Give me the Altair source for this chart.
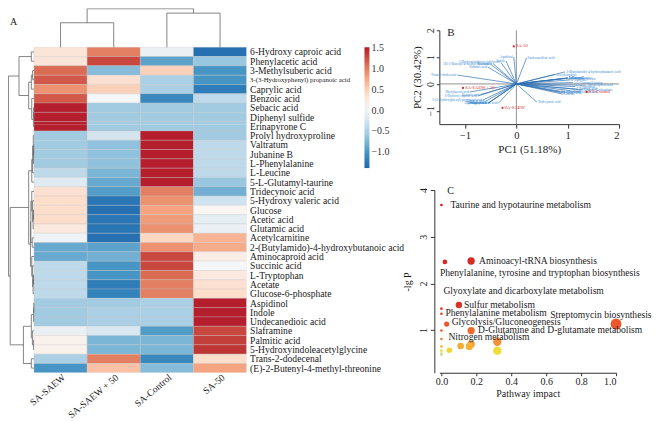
import altair as alt
import pandas as pd

FONT = "Liberation Serif"

# ---------------- Panel A : heatmap ----------------
metabolites = [
    "6-Hydroxy caproic acid", "Phenylacetic acid", "3-Methylsuberic acid",
    "3-(3-Hydroxyphenyl) propanoic acid", "Caprylic acid", "Benzoic acid",
    "Sebacic acid", "Diphenyl sulfide", "Erinapyrone C", "Prolyl hydroxyproline",
    "Valtratum", "Jubanine B", "L-Phenylalanine", "L-Leucine", "5-L-Glutamyl-taurine",
    "Tridecynoic acid", "5-Hydroxy valeric acid", "Glucose", "Acetic acid",
    "Glutamic acid", "Acetylcarnitine", "2-(Butylamido)-4-hydroxybutanoic acid",
    "Aminocaproid acid", "Succinic acid", "L-Tryptophan", "Acetate",
    "Glucose-6-phosphate", "Aspidinol", "Indole", "Undecanedioic acid",
    "Slaframine", "Palmitic acid", "5-Hydroxyindoleacetylglycine",
    "Trans-2-dodecenal", "(E)-2-Butenyl-4-methyl-threonine",
]
groups = ["SA-SAEW", "SA-SAEW + 50", "SA-Control", "SA-50"]

z_saew = [0.30, 0.30, 1.10, 1.20, 0.90, 1.20, 1.50, 1.50, 1.50, -0.55, -0.55, -0.55,
          -0.55, -0.40, -0.15, 0.35, 0.40, 0.40, 0.40, 0.25, 0.00, -0.85, -0.85, -0.40,
          -0.40, -0.40, -0.40, -0.55, -0.55, -0.55, -0.05, 0.15, 0.15, -0.50, -1.00]
z_saew50 = [1.00, 1.30, -0.70, 0.35, 0.50, 0.05, -0.55, -0.55, -0.55, -0.25, -0.65, -0.65,
            -0.65, -0.75, -0.85, -0.95, -1.25, -1.30, -1.25, -1.25, -1.30, -0.90, -0.80,
            -1.00, -1.00, -1.20, -1.15, -0.55, -0.50, -0.50, -0.20, -0.75, -0.75, 1.00, 0.60]
z_control = [-0.05, -0.90, 0.50, -0.50, -0.50, -1.10, -0.55, -0.55, -0.55, 1.50, 1.50, 1.50,
             1.50, 1.50, 1.50, 1.00, 0.90, 0.80, 0.85, 0.90, 0.45, 0.90, 1.30, 1.30, 1.10,
             1.00, 1.00, -0.50, -0.50, -0.50, -0.95, -0.75, -0.75, -1.10, -0.70]
z_sa50 = [-1.30, -0.60, -1.00, -1.00, -1.20, -0.40, -0.55, -0.55, -0.55, -0.55, -0.40, -0.40,
          -0.40, -0.40, -0.60, -0.80, -0.30, 0.10, -0.10, -0.05, 0.70, 0.75, 0.20, 0.05,
          0.25, 0.35, 0.40, 1.50, 1.50, 1.50, 1.30, 1.35, 1.40, 0.40, 0.80]

# dendrograms: (height, left, right); leaves are row / column indices
row_tree = (29,
            (17, (3, 0, 1),
                 (6, (3, (1.5, 2, 3), 4),
                     (2.5, 5, (0.6, (0.4, 6, 7), 8)))),
            (27,
             (6,
              (2.5, (1.5, (0.8, 9, (0.5, (0.3, 10, 11), 12)), 13), 14),
              (4.0,
               (3.5, (2.5, 15, (1.5, 16, (1.0, (0.5, 17, 18), 19))), (2.0, 20, 21)),
               (2.5, 22, (1.5, 23, (1.0, (0.5, 24, 25), 26))))),
             (12,
              (3, (0.4, (0.2, 27, 28), 29), (1.8, 30, (0.6, 31, 32))),
              (3, 33, 34))))
col_tree = (44, (28, 0, 1), (39, 2, 3))

# ---------------- Panel B : PCA biplot ----------------
load_pc1 = [-0.75, -0.90, -0.35, -0.65, -0.60, -0.70, -0.55, -0.55, -0.55, 0.95, 1.00, 1.00,
            1.00, 1.05, 1.10, 0.40, 0.95, 0.90, 0.95, 0.85, 0.75, 0.95, 1.35, 1.20, 1.15,
            1.05, 1.30, -0.05, -0.20, 0.20, -0.45, -0.55, -0.30, -1.15, -0.50]
load_pc2 = [-0.45, -0.30, -0.72, -0.60, -0.65, -0.40, -0.72, -0.72, -0.72, 0.20, 0.22, 0.22,
            0.22, 0.15, 0.05, -0.68, -0.30, -0.38, -0.35, -0.30, 0.35, 0.45, -0.05, -0.20,
            -0.10, -0.25, -0.22, 1.00, 0.85, 0.97, 0.75, 0.62, 0.80, 0.33, 0.73]
samples = ["SA-50", "SA-Control", "SA-SAEW + 50", "SA-SAEW"]
sample_pc1 = [-0.05, 1.37, -1.04, -0.27]
sample_pc2 = [1.40, -0.30, -0.15, -0.89]

# ---------------- Panel C : pathway bubbles ----------------
bub_label = ["Taurine and hypotaurine metabolism", "Aminoacyl-tRNA biosynthesis",
             "Phenylalanine, tyrosine and tryptophan biosynthesis",
             "Glyoxylate and dicarboxylate metabolism", "Phenylalanine metabolism",
             "Sulfur metabolism", "Glycolysis/Gluconeogenesis", "Streptomycin biosynthesis",
             "D-Glutamine and D-glutamate metabolism", "", "Nitrogen metabolism",
             "", "", "", "", "", "", "", "", "", ""]
bub_impact = [0.0, 0.17, 0.02, 0.0, 0.0, 0.10, 0.03, 1.0, 0.17, 0.0, 0.0,
              0.32, 0.17, 0.16, 0.11, 0.32, 0.045, 0.0, 0.0, 0.0, 0.0]
bub_lgp = [3.68, 2.48, 2.46, 1.46, 1.35, 1.54, 1.13, 1.13, 0.99, 0.99, 0.81,
           0.75, 0.70, 0.65, 0.66, 0.56, 0.57, 0.65, 0.56, 0.50, 0.47]

# annotation placement (pixel offsets of each label from its bubble)
LABEL_OFFSETS = {
    "Taurine and hypotaurine metabolism": (9, 0),
    "Aminoacyl-tRNA biosynthesis": (8, 0),
    "Phenylalanine, tyrosine and tryptophan biosynthesis": (-5, 11),
    "Glyoxylate and dicarboxylate metabolism": (2, -18),
    "Phenylalanine metabolism": (4, -1),
    "Sulfur metabolism": (5, 0),
    "Glycolysis/Gluconeogenesis": (5, -2),
    "Streptomycin biosynthesis": (-66, -9),
    "D-Glutamine and D-glutamate metabolism": (7, -1),
    "Nitrogen metabolism": (7, -2),
}

# ---------------- layout sizes (pixels) ----------------
DENDRO_W, HEAT_W = 26, 213
COLDENDRO_H, HEAT_H = 39, 326
GAP_W = 193
RIGHT_ROWS = [22, 94, 66, 183]          # spacer, PCA, spacer, bubble
COL_PX = HEAT_W / 4.0
ROW_PX = HEAT_H / 35.0


def dendro_segments(tree):
    segs = []

    def walk(n):
        if isinstance(n, int):
            return n + 0.5, 0.0
        h, l, r = n
        pl, hl = walk(l)
        pr, hr = walk(r)
        segs.append((pl, hl, pl, h))
        segs.append((pr, hr, pr, h))
        segs.append((pl, h, pr, h))
        return (pl + pr) / 2.0, h

    walk(tree)
    return pd.DataFrame(segs, columns=["p1", "h1", "p2", "h2"])


# heatmap in (column, row) units; dendrograms placed in the same units outside the cells
nrow = len(metabolites)
hm_df = pd.DataFrame({
    "metabolite": metabolites * 4,
    "group": [g for g in groups for _ in metabolites],
    "z": z_saew + z_saew50 + z_control + z_sa50,
    "c": [float(groups.index(g)) for g in groups for _ in metabolites],
    "r": [float(i) for _ in groups for i in range(nrow)],
})
hm_df["c2"] = hm_df["c"] + 1
hm_df["r2"] = hm_df["r"] + 1

kx_row = (DENDRO_W / COL_PX) / 29.5      # dendrogram height -> column units
ky_col = (COLDENDRO_H / ROW_PX) / 44.5   # dendrogram height -> row units
rseg = dendro_segments(row_tree)
row_seg = pd.DataFrame({"x1": -rseg["h1"] * kx_row, "x2": -rseg["h2"] * kx_row,
                        "y1": rseg["p1"], "y2": rseg["p2"]})
cseg = dendro_segments(col_tree)
col_seg = pd.DataFrame({"x1": cseg["p1"], "x2": cseg["p2"],
                        "y1": -cseg["h1"] * ky_col, "y2": -cseg["h2"] * ky_col})

zmin, zmax = -1.38, 1.52
stops = [zmin + (zmax - zmin) * i / 8 for i in range(9)]
rdbu = ["#2166ac", "#4393c3", "#8fc2dd", "#cfe3ef", "#f7f7f7",
        "#fddbc7", "#f4a582", "#d6604d", "#b2182b"]

names_js = "[" + ",".join("'" + m + "'" for m in metabolites) + "]"
groups_js = "[" + ",".join("'" + g + "'" for g in groups) + "]"
X_DOM = [-DENDRO_W / COL_PX, 4.0]


def left_part(top_px, bot_px, last=False, legend=False, letter=False):
    u0 = (top_px - COLDENDRO_H) / ROW_PX
    u1 = (bot_px - COLDENDRO_H) / ROW_PX
    xs = alt.Scale(domain=X_DOM, nice=False, zero=False)
    ys = alt.Scale(domain=[u0, u1], nice=False, zero=False, reverse=True)
    yvals = [i + 0.5 for i in range(nrow) if u0 <= i + 0.5 < u1]
    if yvals:
        yaxis = alt.Axis(orient="right", title=None, ticks=False, domain=False, grid=False,
                         values=yvals, labelExpr=names_js + "[floor(datum.value)]",
                         labelOverlap=False, labelPadding=3, labelLimit=0,
                         labelColor="#1a1a1a",
                         labelFontSize={"condition": {"test": "floor(datum.value) == 3",
                                                      "value": 6.8}, "value": 9.6})
    else:
        yaxis = None
    if last:
        xaxis = alt.Axis(title=None, values=[0.5, 1.5, 2.5, 3.5], grid=False, ticks=False,
                         domain=False, labelExpr=groups_js + "[floor(datum.value)]",
                         labelOverlap=False, labelAngle=320, labelAlign="right",
                         labelBaseline="middle", labelFontSize=9.6, labelPadding=3,
                         labelOffset=3, labelLimit=0)
    else:
        xaxis = None
    leg = None
    if legend:
        leg = alt.Legend(orient="none", legendX=357, legendY=COLDENDRO_H - top_px,
                         direction="vertical", title=None, gradientLength=121,
                         gradientThickness=5, gradientStrokeWidth=0, padding=0,
                         values=[-1, -0.5, 0, 0.5, 1, 1.5], format=".1f",
                         labelFontSize=10, labelOffset=2, labelColor="#333")
    cells = alt.Chart(hm_df).mark_rect(stroke="#c4c4c4", strokeWidth=0.3, clip=True).encode(
        x=alt.X("c:Q", scale=xs, axis=xaxis), x2="c2:Q",
        y=alt.Y("r:Q", scale=ys, axis=yaxis), y2="r2:Q",
        color=alt.Color("z:Q", scale=alt.Scale(domain=stops, range=rdbu), legend=leg),
    )
    rd = alt.Chart(row_seg).mark_rule(color="#666", strokeWidth=0.8, clip=True).encode(
        x=alt.X("x1:Q", scale=xs, axis=xaxis), x2="x2:Q",
        y=alt.Y("y1:Q", scale=ys, axis=yaxis), y2="y2:Q")
    cd = alt.Chart(col_seg).mark_rule(color="#666", strokeWidth=0.8, clip=True).encode(
        x=alt.X("x1:Q", scale=xs, axis=xaxis), x2="x2:Q",
        y=alt.Y("y1:Q", scale=ys, axis=yaxis), y2="y2:Q")
    layers = [cells, rd, cd]
    if letter:
        layers.append(alt.Chart(pd.DataFrame({"t": ["A"]})).mark_text(
            fontSize=10, align="left", baseline="middle", color="#222").encode(
            x=alt.value(2), y=alt.value(14), text="t:N"))
    return alt.layer(*layers).properties(width=DENDRO_W + HEAT_W, height=bot_px - top_px)


spacer_df = pd.DataFrame({"v": [0.0]})


def spacer(w, h):
    return alt.Chart(spacer_df).mark_point(opacity=0, size=0, strokeWidth=0).encode(
        x=alt.X("v:Q", axis=None), y=alt.Y("v:Q", axis=None)
    ).properties(width=w, height=h)


# ---- PCA biplot
load_df = pd.DataFrame({"metabolite": metabolites, "pc1": load_pc1, "pc2": load_pc2,
                        "x0": 0.0, "y0": 0.0})
samp_df = pd.DataFrame({"sample": samples, "pc1": sample_pc1, "pc2": sample_pc2})
xs_pca = alt.Scale(domain=[-1.5, 2], nice=False, zero=False)
ys_pca = alt.Scale(domain=[-1.5, 2], nice=False, zero=False)
pca_xaxis = alt.Axis(values=[-1, 0, 1, 2], title="PC1 (51.18%)", grid=False, tickSize=4,
                     labelPadding=2, titlePadding=3, labelFontSize=10.5, titleFontSize=11)
pca_yaxis = alt.Axis(values=[-1, 0, 1, 2], title="PC2 (30.42%)", grid=False, tickSize=3,
                     labelPadding=1, titlePadding=3, labelAngle=270, labelAlign="center",
                     labelBaseline="bottom", labelFontSize=10, titleFontSize=11)

zero_df = pd.DataFrame({"v": [0.0]})
pca_h0 = alt.Chart(zero_df).mark_rule(color="#777", strokeWidth=0.8).encode(
    y=alt.Y("v:Q", scale=ys_pca, axis=pca_yaxis))
pca_v0 = alt.Chart(zero_df).mark_rule(color="#777", strokeWidth=0.8).encode(
    x=alt.X("v:Q", scale=xs_pca, axis=pca_xaxis))
pca_arrows = alt.Chart(load_df).mark_rule(color="#2f72b3", strokeWidth=0.7).encode(
    x=alt.X("x0:Q", scale=xs_pca, axis=pca_xaxis), x2="pc1:Q",
    y=alt.Y("y0:Q", scale=ys_pca, axis=pca_yaxis), y2="pc2:Q")
pca_lab_l = alt.Chart(load_df).transform_filter("datum.pc1 < 0").mark_text(
    fontSize=3.4, color="#3a8bd0", align="right", baseline="middle", dx=-1).encode(
    x=alt.X("pc1:Q", scale=xs_pca, axis=pca_xaxis),
    y=alt.Y("pc2:Q", scale=ys_pca, axis=pca_yaxis), text="metabolite:N")
pca_lab_r = alt.Chart(load_df).transform_filter("datum.pc1 >= 0").mark_text(
    fontSize=3.4, color="#3a8bd0", align="left", baseline="middle", dx=1).encode(
    x=alt.X("pc1:Q", scale=xs_pca, axis=pca_xaxis),
    y=alt.Y("pc2:Q", scale=ys_pca, axis=pca_yaxis), text="metabolite:N")
pca_pts = alt.Chart(samp_df).mark_circle(color="#d62a2a", size=5, opacity=1).encode(
    x=alt.X("pc1:Q", scale=xs_pca, axis=pca_xaxis),
    y=alt.Y("pc2:Q", scale=ys_pca, axis=pca_yaxis))
pca_ptlab = alt.Chart(samp_df).mark_text(fontSize=4.6, color="#d62a2a", align="left",
                                         baseline="middle", dx=2).encode(
    x=alt.X("pc1:Q", scale=xs_pca, axis=pca_xaxis),
    y=alt.Y("pc2:Q", scale=ys_pca, axis=pca_yaxis), text="sample:N")
pca_letter = alt.Chart(pd.DataFrame({"t": ["B"]})).mark_text(
    fontSize=11, align="left", baseline="middle", color="#222").encode(
    x=alt.value(8), y=alt.value(3), text="t:N")
pca = alt.layer(pca_h0, pca_v0, pca_arrows, pca_lab_l, pca_lab_r, pca_pts, pca_ptlab,
                pca_letter).properties(width=180, height=RIGHT_ROWS[1])

# ---- Pathway bubble chart
bub_df = pd.DataFrame({"label": bub_label, "impact": bub_impact, "lgp": bub_lgp})
xs_b = alt.Scale(domain=[-0.012, 1.0], nice=False, zero=False)
ys_b = alt.Scale(domain=[0.087, 4.0], nice=False, zero=False)
b_xaxis = alt.Axis(values=[0, 0.2, 0.4, 0.6, 0.8, 1.0], format=".1f", title="Pathway impact",
                   grid=False, tickSize=3, labelPadding=1, titlePadding=2,
                   labelFontSize=10, titleFontSize=10)
b_yaxis = alt.Axis(values=[1, 2, 3, 4], title="-lg P", grid=False, tickSize=4, offset=5,
                   labelPadding=2, titlePadding=6, labelAngle=270, labelAlign="center",
                   labelBaseline="bottom", labelFontSize=10, titleFontSize=10)
bub_pts = alt.Chart(bub_df).mark_circle(opacity=1).encode(
    x=alt.X("impact:Q", scale=xs_b, axis=b_xaxis),
    y=alt.Y("lgp:Q", scale=ys_b, axis=b_yaxis),
    size=alt.Size("impact:Q", scale=alt.Scale(type="sqrt", domain=[0, 1], range=[7, 120]),
                  legend=None),
    color=alt.Color("lgp:Q", scale=alt.Scale(
        domain=[0.45, 0.55, 0.7, 0.85, 1.1, 1.5, 3.7],
        range=["#c9d9a0", "#f0e03a", "#f29a3a", "#ee7a30", "#ea5a2a", "#dd3326", "#d01c1f"]),
        legend=None),
    order=alt.Order("impact:Q", sort="descending"),
)
bub_layers = [bub_pts]
for name, (ddx, ddy) in LABEL_OFFSETS.items():
    bub_layers.append(
        alt.Chart(bub_df).transform_filter(alt.datum.label == name).mark_text(
            align="left", baseline="middle", dx=ddx, dy=ddy, fontSize=9.6,
            color="#222").encode(
            x=alt.X("impact:Q", scale=xs_b, axis=b_xaxis),
            y=alt.Y("lgp:Q", scale=ys_b, axis=b_yaxis), text="label:N"))
bub_layers.append(alt.Chart(pd.DataFrame({"t": ["C"]})).mark_text(
    fontSize=10, align="left", baseline="middle", color="#222").encode(
    x=alt.value(8), y=alt.value(1), text="t:N"))
bubble = alt.layer(*bub_layers).properties(width=177, height=RIGHT_ROWS[3])

# ---- grid: left block split into horizontal bands that match the right-hand rows
bounds_px = [0]
for h in RIGHT_ROWS:
    bounds_px.append(bounds_px[-1] + h)
parts = [left_part(bounds_px[i], bounds_px[i + 1], last=(i == 3), legend=(i == 1),
                   letter=(i == 0)) for i in range(4)]
right_cells = [spacer(180, 1), pca, spacer(180, 1), bubble]

cells = []
for i in range(4):
    cells += [parts[i], spacer(GAP_W, 1), right_cells[i]]

chart = alt.concat(*cells, columns=3, spacing=0, bounds="flush").resolve_scale(
    x="independent", y="independent", color="independent", size="independent"
).properties(padding={"left": 0, "top": 0, "right": 0, "bottom": 2}).configure(
    font=FONT
).configure_view(
    stroke=None, strokeWidth=0
).configure_axis(
    labelFont=FONT, titleFont=FONT, titleFontWeight="normal", domainColor="#333",
    tickColor="#333", labelColor="#1a1a1a", titleColor="#1a1a1a"
).configure_text(font=FONT).configure_legend(labelFont=FONT)

chart.save("out.html", embed_options={"renderer": "svg", "actions": False})
